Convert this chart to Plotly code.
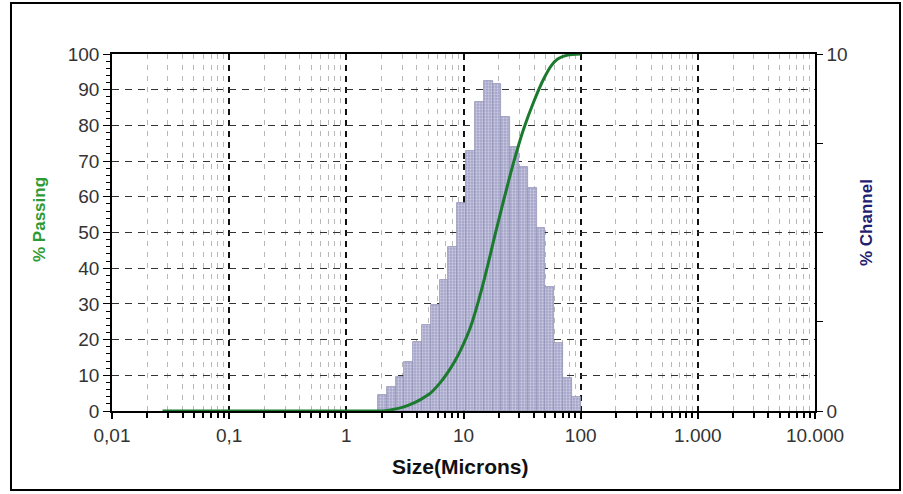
import numpy as np
import plotly.graph_objects as go

# ---- data ----
bin_edges_um = [1.86, 2.21, 2.63, 3.13, 3.72, 4.42, 5.26, 6.25, 7.43, 8.84, 10.5, 12.5,
                14.9, 17.7, 21.0, 25.0, 29.7, 35.4, 42.0, 50.0, 59.5, 70.7, 84.1, 100.0]
channel_pct = [0.45, 0.67, 0.96, 1.38, 1.94, 2.40, 2.98, 3.68, 4.60, 5.84, 7.28, 8.65,
               9.24, 9.16, 8.23, 7.39, 6.83, 6.26, 5.14, 3.46, 1.90, 0.93, 0.40]

curve_size_um = [0.027, 0.5, 1.5, 2.0, 2.38, 3.0, 3.74, 4.4, 5.22, 6.2, 7.3, 8.3, 9.43,
                 11.5, 14.0, 17.0, 18.0, 22.0, 26.8, 32.6, 39.6, 48.3, 56.0, 63.6, 77.4, 100.0]
passing_pct = [0.0, 0.0, 0.0, 0.0, 0.3, 1.0, 2.2, 3.4, 5.0, 7.6, 10.7, 13.6, 17.0,
               23.6, 33.0, 44.0, 47.5, 59.0, 69.7, 79.0, 86.5, 93.0, 96.7, 98.6, 99.7, 100.0]

x_tick_vals = [0.01, 0.1, 1, 10, 100, 1000, 10000]
x_tick_text = ["0,01", "0,1", "1", "10", "100", "1.000", "10.000"]

# ---- layout geometry (pixels) ----
W, H = 903, 494
L, R, T, B = 112, 88, 54, 83
pw, ph = W - L - R, H - T - B

def px(xp):
    return (xp - L) / pw

def py(yp):
    return (H - B - yp) / ph

log_edges = np.log10(bin_edges_um)
centers = (log_edges[:-1] + log_edges[1:]) / 2
widths = np.diff(log_edges)

FONT = "Liberation Sans, Arial, sans-serif"
TICKC = "#333333"

fig = go.Figure()

# bars: main subplot (hidden linear x in log10 units, right axis % channel)
fig.add_trace(go.Bar(
    x=centers, y=channel_pct, width=widths,
    xaxis="x", yaxis="y",
    marker=dict(color="#aeaed0",
                line=dict(color="#9494b8", width=0.8),
                pattern=dict(shape=".", fgcolor="#f0f0f8", bgcolor="#a2a2c8",
                             size=3, solidity=0.45)),
    showlegend=False, hoverinfo="skip"))

# cumulative passing curve: overlay subplot (log x, left axis)
fig.add_trace(go.Scatter(
    x=curve_size_um, y=passing_pct, xaxis="x2", yaxis="y2",
    mode="lines", line=dict(color="#1b7a2e", width=3, shape="spline", smoothing=0.6),
    showlegend=False))

minor_vals = [m * 10.0 ** k for k in range(-2, 4) for m in range(2, 10)]

fig.update_layout(
    width=W, height=H,
    margin=dict(l=L, r=R, t=T, b=B),
    paper_bgcolor="white", plot_bgcolor="white",
    font=dict(family=FONT, size=19, color=TICKC),
    bargap=0,
    xaxis=dict(visible=False, range=[-2, 4], fixedrange=True),
    yaxis=dict(side="right", range=[0, 10], showgrid=False, zeroline=False,
               tickvals=[0, 2.5, 5, 7.5, 10], ticktext=["0", "", "", "", "10"],
               ticks="outside", ticklen=6, tickcolor="black", showline=True,
               linecolor="black", linewidth=1.5, tickfont=dict(size=19, color=TICKC)),
    xaxis2=dict(type="log", range=[-2, 4], overlaying="x", anchor="y2", side="bottom",
                tickvals=x_tick_vals, ticktext=x_tick_text,
                ticks="outside", ticklen=6, tickcolor="black", tickwidth=1.5,
                showline=True, linecolor="black", linewidth=1.5, mirror=True,
                showgrid=True, gridcolor="#111111", gridwidth=2, griddash="6px,5px",
                minor=dict(tickvals=minor_vals, ticks="outside", ticklen=5,
                           tickcolor="black", tickwidth=1.5, showgrid=True,
                           gridcolor="#b8b8b8", gridwidth=1, griddash="5px,6px"),
                zeroline=False, tickfont=dict(size=19, color=TICKC)),
    yaxis2=dict(range=[0, 100], overlaying="y", anchor="x2", side="left",
                dtick=10, tick0=0, ticks="outside", ticklen=7, tickcolor="black",
                showline=True, linecolor="black", linewidth=1.5, mirror=True,
                showgrid=True, gridcolor="#333333", gridwidth=1.2, griddash="7px,6px",
                minor=dict(dtick=2, ticks="outside", ticklen=4, tickcolor="black",
                           showgrid=False),
                zeroline=False, tickfont=dict(size=19, color=TICKC)),
    annotations=[
        dict(text="<b>% Passing</b>", x=px(39), y=py(220), xref="paper", yref="paper",
             xanchor="center", yanchor="middle",
             textangle=-90, showarrow=False, font=dict(family=FONT, size=17, color="#2f9a35")),
        dict(text="<b>% Channel</b>", x=px(866), y=py(222), xref="paper", yref="paper",
             xanchor="center", yanchor="middle",
             textangle=-90, showarrow=False, font=dict(family=FONT, size=17, color="#1f2070")),
        dict(text="<b>Size(Microns)</b>", x=px(460), y=py(467), xref="paper", yref="paper",
             xanchor="center", yanchor="middle",
             showarrow=False, font=dict(family=FONT, size=21, color="#111111")),
    ],
    shapes=[
        dict(type="rect", xref="paper", yref="paper",
             x0=px(11), x1=px(900), y0=py(490), y1=py(3),
             line=dict(color="black", width=2), fillcolor="rgba(0,0,0,0)", layer="below"),
    ],
)

fig.write_html("out.html")
